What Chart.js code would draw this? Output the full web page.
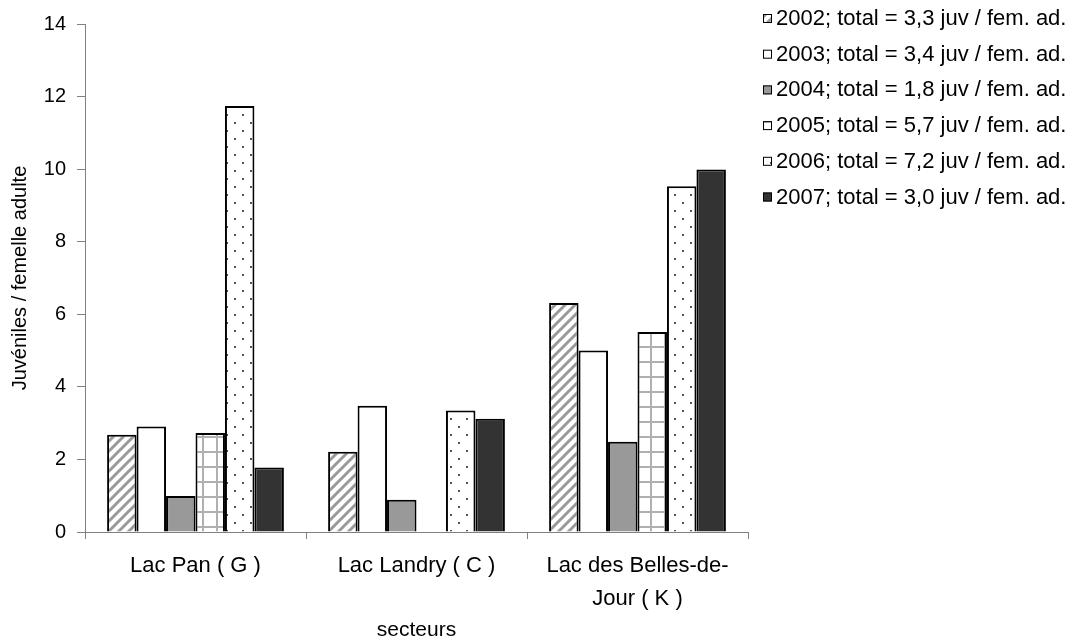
<!DOCTYPE html>
<html>
<head>
<meta charset="utf-8">
<script src="https://cdn.jsdelivr.net/npm/chart.js@4/dist/chart.umd.min.js"></script>
<style>
  html, body { margin: 0; padding: 0; background: #fff; }
  canvas { display: block; }
</style>
</head>
<body>
<canvas id="chart" width="1081" height="642"></canvas>
<script>
// data
const categories = [['Lac Pan ( G )'], ['Lac Landry ( C )'], ['Lac des Belles-de-', 'Jour ( K )']];
const years      = ['2002', '2003', '2004', '2005', '2006', '2007'];
const totals     = ['3,3', '3,4', '1,8', '5,7', '7,2', '3,0'];

const v2002 = [2.68, 2.21, 6.31];
const v2003 = [2.91, 3.48, 5.00];
const v2004 = [0.99, 0.89, 2.49];
const v2005 = [2.73, null, 5.51];
const v2006 = [11.74, 3.35, 9.53];
const v2007 = [1.78, 3.12, 9.99];

const yTicks = [0, 2, 4, 6, 8, 10, 12, 14];

const FONT = 'Liberation Sans, Arial, sans-serif';

function makePattern(w, h, draw) {
  const c = document.createElement('canvas');
  c.width = w; c.height = h;
  const g = c.getContext('2d');
  g.fillStyle = '#fff';
  g.fillRect(0, 0, w, h);
  draw(g);
  return g.createPattern(c, 'repeat');
}

const hatch = makePattern(10, 10, g => {
  g.strokeStyle = '#9a9a9a';
  g.lineWidth = 3;
  g.beginPath();
  g.moveTo(-5, 5);  g.lineTo(5, -5);
  g.moveTo(0, 10);  g.lineTo(10, 0);
  g.moveTo(5, 15);  g.lineTo(15, 5);
  g.stroke();
});

const grid = makePattern(14, 15, g => {
  g.fillStyle = '#b0b0b0';
  g.fillRect(6, 0, 2, 15);
  g.fillRect(0, 1, 14, 2);
});

const dots = makePattern(16, 16, g => {
  g.fillStyle = '#555';
  g.fillRect(2, 2, 2, 2);
  g.fillRect(10, 10, 2, 2);
});

const fills  = [hatch, '#ffffff', '#999999', grid, dots, '#333333'];
const series = [v2002, v2003, v2004, v2005, v2006, v2007];

const datasets = years.map((y, i) => ({
  label: `${y}; total = ${totals[i]} juv / fem. ad.`,
  data: series[i],
  backgroundColor: fills[i],
  borderColor: '#000',
  borderWidth: 2,
  borderSkipped: 'bottom',
  categoryPercentage: 0.8,
  barPercentage: 1.0
}));

// legend drawn at the right, Excel style
const sideLegend = {
  id: 'sideLegend',
  afterDraw(chart) {
    const ctx = chart.ctx;
    ctx.save();
    ctx.font = `22px ${FONT}`;
    ctx.textBaseline = 'alphabetic';
    ctx.textAlign = 'left';
    chart.data.datasets.forEach((ds, i) => {
      const base = 25 + i * 35.7;
      ctx.fillStyle = ds.backgroundColor;
      ctx.fillRect(763, base - 11, 9, 9);
      ctx.strokeStyle = '#000';
      ctx.lineWidth = 1;
      ctx.strokeRect(763.5, base - 10.5, 8, 8);
      ctx.fillStyle = '#000';
      ctx.fillText(ds.label, 776, base);
    });
    ctx.restore();
  }
};

new Chart(document.getElementById('chart'), {
  type: 'bar',
  data: { labels: categories, datasets },
  options: {
    responsive: false,
    animation: false,
    layout: { padding: { left: 0, top: 24, right: 333, bottom: 0 } },
    plugins: {
      legend: { display: false },
      tooltip: { enabled: false }
    },
    scales: {
      x: {
        grid: {
          display: true,
          drawOnChartArea: false,
          drawTicks: true,
          tickLength: 7,
          color: '#808080',
          lineWidth: 1
        },
        border: { color: '#808080', width: 1 },
        ticks: {
          color: '#000',
          padding: 10,
          maxRotation: 0,
          autoSkip: false,
          font: { family: FONT, size: 22, lineHeight: 1.5 }
        },
        title: {
          display: true,
          text: 'secteurs',
          color: '#000',
          font: { family: FONT, size: 21, lineHeight: 1.0 },
          padding: { top: 0, bottom: 1 }
        },
        afterFit(s) { s.height = 110; }
      },
      y: {
        min: 0,
        max: 14,
        afterBuildTicks(s) { s.ticks = yTicks.map(v => ({ value: v })); },
        grid: {
          display: true,
          drawOnChartArea: false,
          drawTicks: true,
          tickLength: 8,
          color: '#808080',
          lineWidth: 1
        },
        border: { color: '#808080', width: 1 },
        ticks: {
          color: '#000',
          padding: 11,
          font: { family: FONT, size: 20 }
        },
        title: {
          display: true,
          text: 'Juvéniles / femelle adulte',
          color: '#000',
          font: { family: FONT, size: 20, lineHeight: 1.2 },
          padding: { top: 8, bottom: 0 }
        },
        afterFit(s) { s.width = 85; }
      }
    }
  },
  plugins: [sideLegend]
});
</script>
</body>
</html>
